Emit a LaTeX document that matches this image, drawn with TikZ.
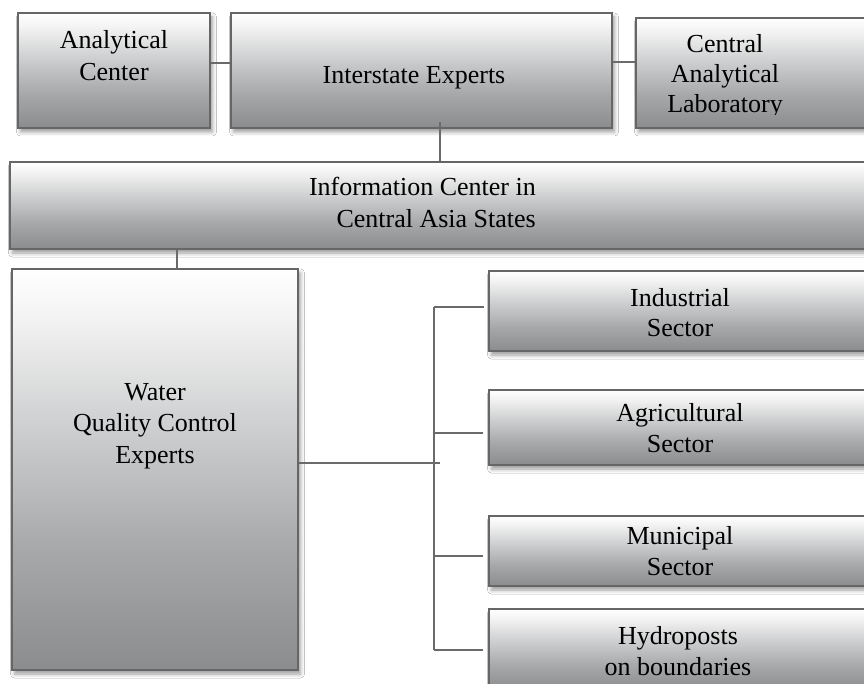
\documentclass[tikz,border=0pt]{standalone}
\usepackage{fontspec}
\setmainfont{Liberation Serif}
\usetikzlibrary{shadows.blur}

\definecolor{edgegray}{HTML}{666666}
\definecolor{linegray}{HTML}{6A6A6A}
\definecolor{shadeA}{HTML}{8A8C8E}
\definecolor{shadeB}{HTML}{A6A8AA}
\definecolor{shadeC}{HTML}{D2D3D4}
\definecolor{shadeD}{HTML}{F3F3F3}

% white at the top of each box, fading to grey at the bottom
\pgfdeclareverticalshading{boxshade}{100bp}{%
  color(0bp)=(shadeA); color(25bp)=(shadeA); color(40bp)=(shadeB);
  color(57bp)=(shadeC); color(69bp)=(shadeD); color(75bp)=(white);
  color(100bp)=(white)}

\tikzset{
  panel/.style={draw=edgegray, line width=2.6pt, shade, shading=boxshade,
    inner sep=0pt,
    blur shadow={shadow xshift=2.5pt, shadow yshift=-4pt,
      shadow blur radius=4pt, shadow opacity=40}},
  % anchored at the baseline of the last line
  caption/.style={inner sep=0pt, align=center, anchor=base,
    font=\fontsize{26}{32}\selectfont},
  link/.style={draw=linegray, line width=2.8pt}
}

\begin{document}
\begin{tikzpicture}[x=1pt, y=-1pt]
  \clip (0,0) rectangle (864,684);
  \fill[white] (0,0) rectangle (864,684);

  % top row
  \node[panel, minimum width=192pt, minimum height=115pt] (ac) at (114,70.5) {};
  \node[panel, minimum width=381pt, minimum height=115pt] (ie) at (421.5,70.5) {};
  \node[panel, minimum width=264pt, minimum height=110pt] (cal) at (768,73) {};

  % information centre band
  \node[panel, minimum width=890pt, minimum height=87pt] (info) at (455,205.5) {};

  % water quality experts and the four sectors
  \node[panel, minimum width=286pt, minimum height=401pt] (wqce) at (155,469.5) {};
  \node[panel, minimum width=411pt, minimum height=80pt] (ind) at (694.5,311) {};
  \node[panel, minimum width=411pt, minimum height=75pt] (agr) at (694.5,427.5) {};
  \node[panel, minimum width=411pt, minimum height=70pt] (mun) at (694.5,551) {};
  \node[panel, minimum width=411pt, minimum height=81pt] (hyd) at (694.5,649.5) {};

  % labels
  \node[caption] (t-ac) at (114,81) {Analytical\\Center};
  \node[caption] (t-ie) at (414,84) {Interstate Experts};
  \begin{scope}
    \clip (600,0) rectangle (870,114.5);
    \node[caption, font=\fontsize{26}{30}\selectfont] (t-cal) at (725,113)
      {Central\\Analytical\\Laboratory};
  \end{scope}
  \node[caption, align=right, anchor=base east] (t-info) at (536,228)
    {Information Center in\\Central Asia States};
  \node[caption, font=\fontsize{26}{31.5}\selectfont] (t-wqce) at (155,463)
    {Water\\Quality Control\\Experts};
  \node[caption, font=\fontsize{26}{30}\selectfont] (t-ind) at (680,337) {Industrial\\Sector};
  \node[caption, font=\fontsize{26}{31}\selectfont] (t-agr) at (680,452) {Agricultural\\Sector};
  \node[caption, font=\fontsize{26}{31}\selectfont] (t-mun) at (680,575) {Municipal\\Sector};
  \node[caption, font=\fontsize{26}{31}\selectfont] (t-hyd) at (678,675) {Hydroposts\\on boundaries};

  % bus on the right of the experts box
  \coordinate (bustop) at (434,307);
  \coordinate (busbot) at (434,650);
  \coordinate (busjoin) at (439.5,463);

  % connectors
  \draw[link] ([yshift=7.5pt]ac.east) -- ([yshift=7.5pt]ac.east -| ie.west);
  \draw[link] ([yshift=8.5pt]ie.east) -- ([yshift=8.5pt]ie.east -| cal.west);
  \draw[link] ([xshift=18.5pt,yshift=7pt]ie.south) -- ([xshift=18.5pt]ie.south |- info.north);
  \draw[link] ([xshift=22pt]wqce.north) -- ([xshift=22pt]wqce.north |- info.south);
  \draw[link] (wqce.east |- busjoin) -- (busjoin);
  \draw[link] (bustop) -- (busbot);
  \draw[link, shorten >=4pt] (bustop) -- (bustop -| ind.west);
  \draw[link, shorten >=5pt] ([yshift=-5.5pt]agr.west -| bustop) -- ([yshift=-5.5pt]agr.west);
  \draw[link, shorten >=5pt] ([yshift=-5pt]mun.west -| bustop) -- ([yshift=-5pt]mun.west);
  \draw[link, shorten >=5pt] (busbot) -- (busbot -| hyd.west);
\end{tikzpicture}
\end{document}
